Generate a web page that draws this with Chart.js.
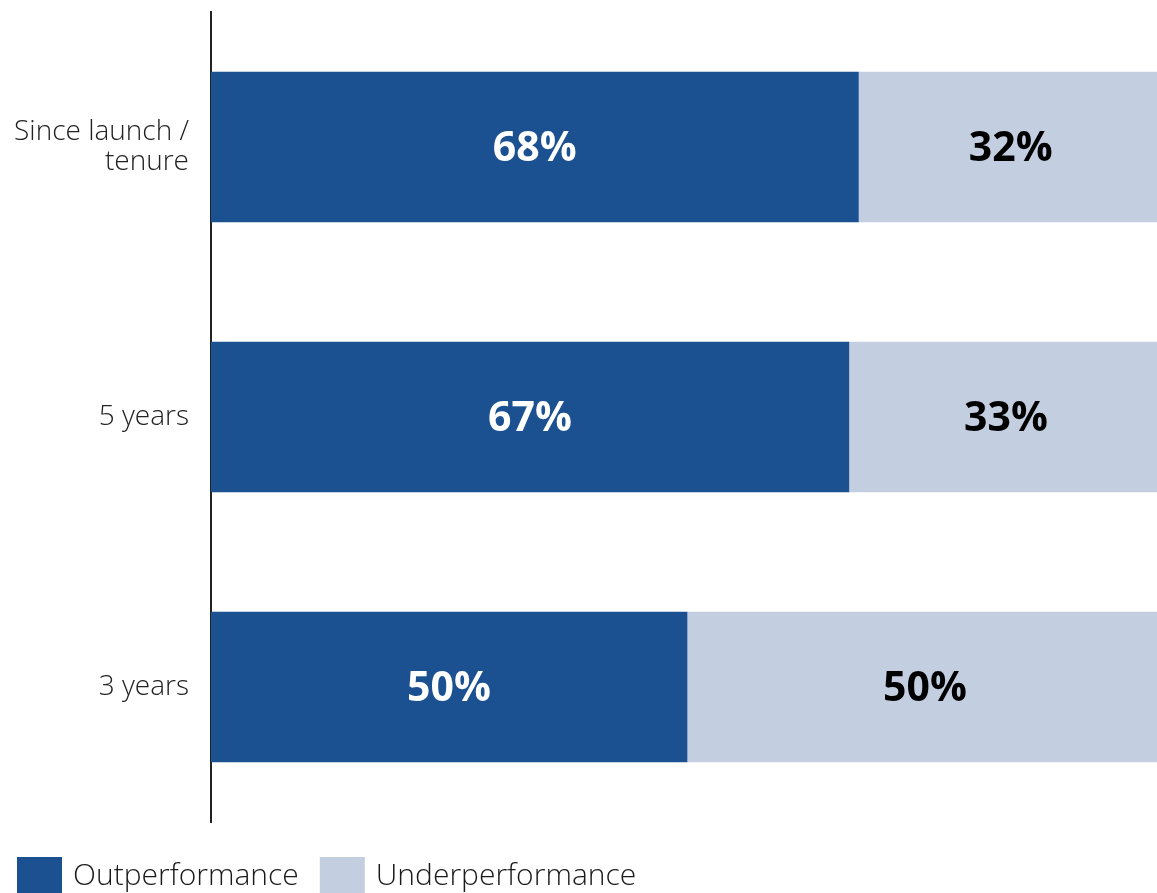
<!DOCTYPE html>
<html>
<head>
<meta charset="utf-8">
<script src="https://cdn.jsdelivr.net/npm/chart.js@4"></script>
<style>
  html, body { margin: 0; padding: 0; background: #fff; overflow: hidden; }
  #wrap { width: 1163px; height: 893px; }
</style>
</head>
<body>
<div id="wrap"><canvas id="c" width="1163" height="893"></canvas></div>
<script>
// Share of funds beating / trailing their benchmark, by period
const periods = [["Since launch /", "tenure"], "5 years", "3 years"];
const outperformance = [68, 67, 50];
const underperformance = [32, 33, 50];
const seriesNames = ["Outperformance", "Underperformance"];
const seriesColors = ["#1b5191", "#c3cee1"];
const labelColors = ["#ffffff", "#000000"];

const FONT = "'Open Sans', 'Segoe UI', sans-serif";

// Percent labels centred inside each bar segment
const segmentLabels = {
  id: "segmentLabels",
  afterDatasetsDraw(chart) {
    const ctx = chart.ctx;
    ctx.save();
    ctx.font = "bold 41px " + FONT;
    ctx.textAlign = "center";
    ctx.textBaseline = "middle";
    chart.data.datasets.forEach((ds, i) => {
      const meta = chart.getDatasetMeta(i);
      meta.data.forEach((bar, j) => {
        const p = bar.getProps(["x", "y", "base"], true);
        ctx.fillStyle = labelColors[i];
        ctx.fillText(ds.data[j] + "%", (p.x + p.base) / 2, p.y + 2);
      });
    });
    ctx.restore();
  }
};

// Legend row along the bottom-left edge
const bottomLegend = {
  id: "bottomLegend",
  afterDraw(chart) {
    const ctx = chart.ctx;
    ctx.save();
    ctx.font = "300 30px " + FONT;
    ctx.textBaseline = "middle";
    let x = 17;
    const top = 857;
    chart.data.datasets.forEach((ds) => {
      ctx.fillStyle = ds.backgroundColor;
      ctx.fillRect(x, top, 45, 45);
      ctx.fillStyle = "#1a1a1a";
      ctx.fillText(ds.label, x + 56, top + 19);
      x += 56 + ctx.measureText(ds.label).width + 21;
    });
    ctx.restore();
  }
};

new Chart(document.getElementById("c"), {
  type: "bar",
  data: {
    labels: periods,
    datasets: [
      { label: seriesNames[0], data: outperformance, backgroundColor: seriesColors[0], barThickness: 150 },
      { label: seriesNames[1], data: underperformance, backgroundColor: seriesColors[1], barThickness: 150 }
    ]
  },
  options: {
    indexAxis: "y",
    responsive: false,
    animation: false,
    layout: { padding: { top: 12, bottom: 71, left: 0, right: 0 } },
    plugins: { legend: { display: false }, tooltip: { enabled: false } },
    scales: {
      x: { stacked: true, min: 0, max: 100, display: false },
      y: {
        stacked: true,
        grid: { display: false, drawTicks: false },
        border: { display: true, color: "#222", width: 2 },
        ticks: {
          color: "#222",
          padding: 22,
          font: { family: FONT, size: 28, weight: 300, lineHeight: 1.07 }
        },
        afterFit(scale) {
          scale.width = 211;
          scale.paddingTop = 0;
          scale.paddingBottom = 0;
        }
      }
    }
  },
  plugins: [segmentLabels, bottomLegend]
});
</script>
</body>
</html>
